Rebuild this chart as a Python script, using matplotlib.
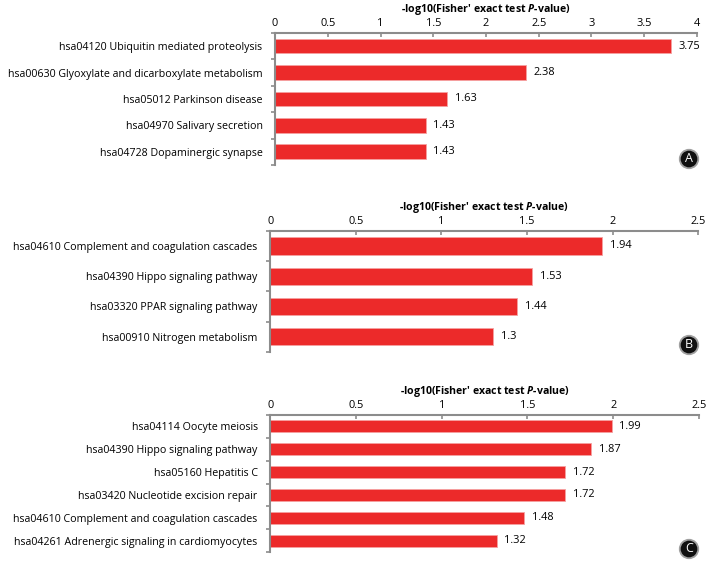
import numpy as np
import matplotlib.pyplot as plt

plt.rcParams['font.family'] = ['Open Sans', 'DejaVu Sans']
plt.rcParams['mathtext.fontset'] = 'custom'
plt.rcParams['mathtext.it'] = 'Open Sans:bold:italic'

# Panel A
terms_a = ["hsa04120 Ubiquitin mediated proteolysis",
           "hsa00630 Glyoxylate and dicarboxylate metabolism",
           "hsa05012 Parkinson disease",
           "hsa04970 Salivary secretion",
           "hsa04728 Dopaminergic synapse"]
vals_a = [3.75, 2.38, 1.63, 1.43, 1.43]
ticks_a = [0, 0.5, 1, 1.5, 2, 2.5, 3, 3.5, 4]

# Panel B
terms_b = ["hsa04610 Complement and coagulation cascades",
           "hsa04390 Hippo signaling pathway",
           "hsa03320 PPAR signaling pathway",
           "hsa00910 Nitrogen metabolism"]
vals_b = [1.94, 1.53, 1.44, 1.3]
ticks_b = [0, 0.5, 1, 1.5, 2, 2.5]

# Panel C
terms_c = ["hsa04114 Oocyte meiosis",
           "hsa04390 Hippo signaling pathway",
           "hsa05160 Hepatitis C",
           "hsa03420 Nucleotide excision repair",
           "hsa04610 Complement and coagulation cascades",
           "hsa04261 Adrenergic signaling in cardiomyocytes"]
vals_c = [1.99, 1.87, 1.72, 1.72, 1.48, 1.32]
ticks_c = [0, 0.5, 1, 1.5, 2, 2.5]

title = "-log10(Fisher' exact test $P$-value)"
bar_color = '#ec2a2a'
axis_gray = '#8c8c8c'

W, H = 709, 563
fig = plt.figure(figsize=(W / 100, H / 100), dpi=100)

# (terms, values, ticks, letter, axes rect, bar height, badge y in px)
panels = [
    (terms_a, vals_a, ticks_a, 'A', [0.388, 0.707, 0.595, 0.2345], 0.55, 159),
    (terms_b, vals_b, ticks_b, 'B', [0.381, 0.375, 0.604, 0.215], 0.57, 345),
    (terms_c, vals_c, ticks_c, 'C', [0.381, 0.0195, 0.605, 0.2434], 0.53, 549),
]

for terms, vals, ticks, letter, rect, bh, badge_y in panels:
    ax = fig.add_axes(rect)
    y = np.arange(len(terms))
    ax.barh(y, vals, height=bh, color=bar_color, edgecolor='#f5a0a0', linewidth=0.6)
    ax.set_ylim(len(terms) - 0.5, -0.5)
    ax.set_xlim(ticks[0], ticks[-1])
    ax.set_xticks(ticks)
    ax.set_xticklabels([f'{t:g}' for t in ticks])
    ax.xaxis.set_ticks_position('top')
    ax.xaxis.set_label_position('top')
    ax.set_xlabel(title, fontsize=7.6, fontweight='bold', labelpad=4)
    ax.set_yticks(y)
    ax.set_yticklabels(terms, fontsize=7.65)
    ax.set_yticks(np.arange(len(terms) + 1) - 0.5, minor=True)
    ax.tick_params(axis='y', which='major', length=0, pad=9)
    ax.tick_params(axis='y', which='minor', length=3, color=axis_gray, width=1.2)
    ax.tick_params(axis='x', length=3, direction='in', color=axis_gray, width=1.2,
                   labelsize=7.9, pad=3)
    for s in ['right', 'bottom']:
        ax.spines[s].set_visible(False)
    for s in ['top', 'left']:
        ax.spines[s].set_color(axis_gray)
        ax.spines[s].set_linewidth(1.5)
    for yi, v in zip(y, vals):
        ax.text(v + ticks[-1] * 0.018, yi, f'{v:g}', va='center', ha='left',
                fontsize=7.9)

    # circled panel letter
    fig.text(689 / W, 1 - badge_y / H, letter, color='white', ha='center',
             va='center', fontsize=9,
             bbox=dict(boxstyle='circle,pad=0.22', facecolor='#111111',
                       edgecolor='#a0a0a0', linewidth=1.3))

fig.savefig('out.png', dpi=100)
